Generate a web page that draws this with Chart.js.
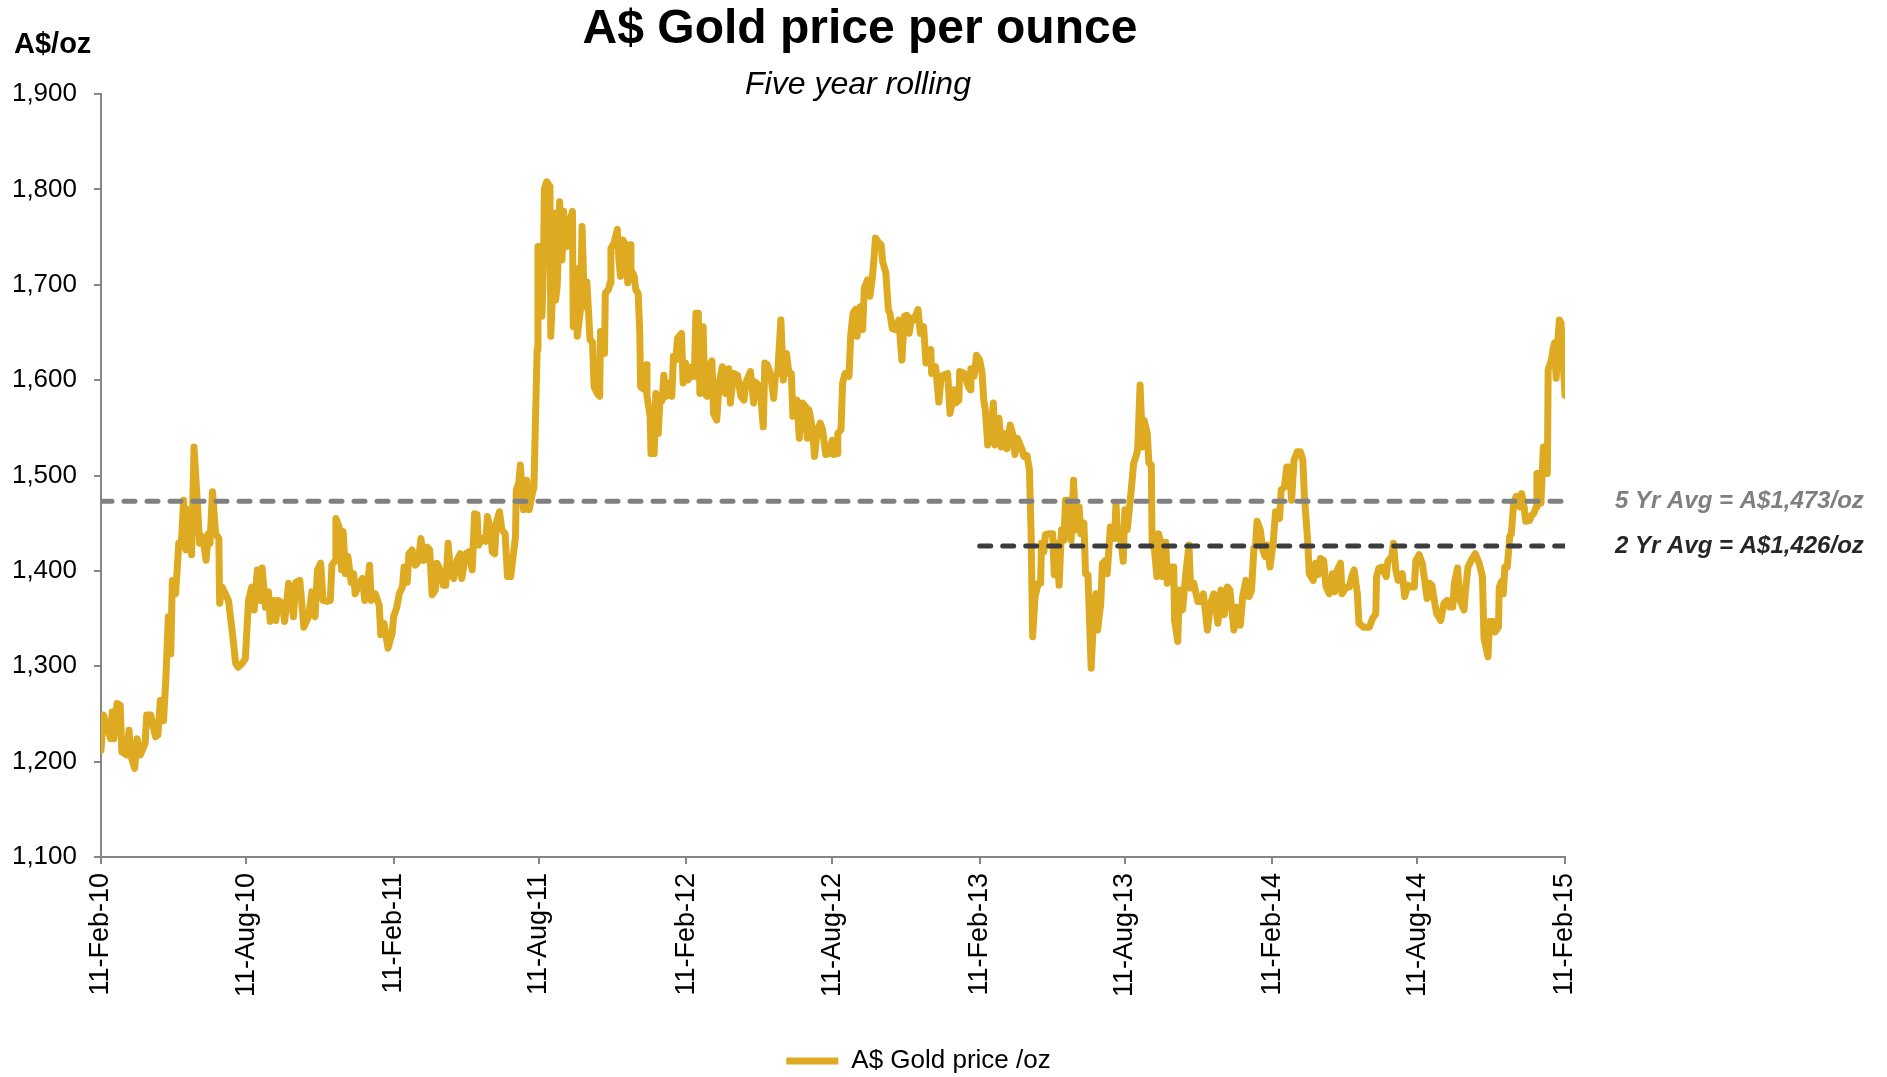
<!DOCTYPE html>
<html>
<head>
<meta charset="utf-8">
<title>A$ Gold price per ounce</title>
<script src="https://cdn.jsdelivr.net/npm/chart.js@4.4.1/dist/chart.umd.min.js"></script>
<style>
  html, body { margin: 0; padding: 0; background: #fff; }
</style>
</head>
<body>
<canvas id="myChart" width="1887" height="1077"></canvas>
<script>
var titleText = 'A$ Gold price per ounce';
var subtitleText = 'Five year rolling';
var unitText = 'A$/oz';
var seriesLabel = 'A$ Gold price /oz';

// x tick positions, in days after 11-Feb-10
var tickDays = [0, 181, 365, 546, 730, 912, 1096, 1277, 1461, 1642, 1826];
var tickLabels = ['11-Feb-10', '11-Aug-10', '11-Feb-11', '11-Aug-11', '11-Feb-12', '11-Aug-12',
                  '11-Feb-13', '11-Aug-13', '11-Feb-14', '11-Aug-14', '11-Feb-15'];

// averages: value, first day, label
var avgValues = [1473, 1426];
var avgStartDays = [0, 1096];
var avgLabels = ['5 Yr Avg = A$1,473/oz', '2 Yr Avg = A$1,426/oz'];
var avgColors = ['#808080', '#3c3c3c'];
var avgTextColors = ['#7f7f7f', '#262626'];

// gold price, [days after 11-Feb-10, A$/oz]
var goldPoints = [
  [0,1212],[3,1249],[12,1224],[14,1252],[16,1224],[20,1261],[24,1259],[26,1210],[32,1207],[35,1233],
  [37,1207],[42,1193],[45,1224],[49,1207],[55,1219],[57,1249],[62,1249],[68,1226],[71,1228],[74,1264],
  [78,1243],[81,1289],[84,1352],[87,1313],[89,1390],[93,1376],[95,1401],[97,1429],[100,1425],[103,1474],
  [106,1422],[109,1464],[113,1417],[116,1530],[120,1474],[123,1429],[127,1436],[131,1411],[134,1439],[136,1429],
  [139,1483],[143,1439],[147,1434],[148,1366],[151,1383],[155,1376],[159,1369],[164,1334],[168,1303],[171,1299],
  [176,1303],[180,1308],[182,1338],[184,1369],[188,1383],[191,1359],[195,1401],[199,1369],[201,1403],[205,1362],
  [209,1378],[211,1347],[216,1369],[218,1348],[221,1369],[226,1366],[229,1347],[234,1387],[240,1352],[243,1388],
  [248,1390],[253,1341],[259,1352],[263,1378],[267,1352],[270,1401],[274,1408],[277,1369],[282,1368],[286,1369],
  [288,1406],[292,1411],[293,1455],[297,1446],[300,1401],[302,1441],[305,1397],[308,1415],[312,1388],[315,1397],
  [317,1376],[322,1387],[326,1392],[329,1369],[332,1383],[335,1406],[337,1369],[342,1376],[347,1364],[349,1333],
  [353,1345],[358,1319],[363,1334],[365,1352],[369,1362],[372,1376],[376,1383],[378,1404],[382,1388],[384,1418],
  [388,1422],[392,1406],[396,1410],[399,1434],[403,1411],[407,1425],[410,1422],[413,1375],[417,1380],[419,1408],
  [423,1401],[427,1385],[430,1385],[433,1429],[436,1397],[440,1392],[444,1411],[448,1418],[450,1392],[455,1418],
  [459,1420],[463,1401],[466,1460],[469,1459],[471,1427],[475,1434],[480,1431],[482,1457],[486,1443],[488,1420],
  [491,1418],[493,1450],[497,1462],[500,1443],[504,1439],[507,1394],[511,1394],[514,1415],[517,1436],[518,1485],
  [521,1492],[523,1511],[527,1464],[531,1495],[534,1464],[538,1481],[540,1488],[542,1562],[544,1632],[545,1740],
  [548,1740],[550,1667],[552,1726],[553,1801],[556,1808],[560,1803],[561,1646],[564,1709],[566,1775],[567,1684],
  [569,1698],[572,1787],[575,1726],[577,1777],[579,1754],[581,1740],[585,1766],[588,1777],[589,1656],[592,1717],
  [594,1646],[598,1674],[600,1761],[603,1677],[606,1703],[610,1642],[613,1640],[615,1593],[619,1586],[622,1583],
  [623,1651],[625,1651],[628,1628],[629,1691],[633,1695],[635,1702],[636,1738],[640,1744],[644,1758],[646,1726],
  [648,1709],[651,1747],[655,1740],[657,1702],[660,1742],[661,1716],[665,1709],[667,1695],[670,1691],[672,1649],
  [673,1593],[678,1590],[680,1616],[681,1583],[685,1562],[686,1523],[690,1523],[692,1586],[695,1544],[697,1576],
  [700,1579],[702,1605],[705,1583],[708,1597],[712,1583],[714,1625],[717,1621],[719,1644],[724,1649],[726,1597],
  [729,1618],[732,1600],[735,1604],[737,1614],[740,1604],[742,1670],[745,1670],[747,1586],[751,1656],[753,1586],
  [756,1583],[760,1618],[762,1620],[764,1565],[768,1558],[771,1597],[775,1614],[779,1586],[783,1612],[785,1576],
  [789,1607],[794,1605],[798,1583],[802,1579],[804,1597],[810,1609],[814,1576],[816,1598],[822,1593],[826,1551],
  [828,1618],[831,1616],[835,1607],[839,1581],[841,1604],[844,1607],[848,1663],[851,1600],[855,1628],[858,1607],
  [861,1607],[863,1562],[868,1579],[871,1539],[875,1576],[879,1572],[881,1539],[883,1569],[887,1551],[890,1520],
  [893,1544],[897,1555],[900,1548],[904,1522],[908,1523],[912,1537],[914,1522],[918,1523],[919,1544],[923,1548],
  [925,1597],[928,1607],[933,1604],[935,1646],[938,1670],[941,1674],[943,1646],[947,1677],[950,1653],[952,1696],
  [956,1705],[959,1688],[962,1707],[964,1726],[966,1749],[970,1744],[973,1742],[975,1724],[979,1712],[982,1674],
  [984,1670],[987,1654],[991,1653],[995,1663],[999,1621],[1002,1667],[1005,1668],[1008,1649],[1011,1665],[1014,1663],
  [1019,1674],[1022,1649],[1026,1656],[1029,1618],[1035,1632],[1036,1607],[1041,1614],[1045,1577],[1048,1604],[1056,1607],
  [1059,1565],[1064,1590],[1066,1576],[1070,1579],[1071,1609],[1077,1607],[1081,1595],[1084,1590],[1085,1612],[1089,1604],
  [1092,1626],[1096,1621],[1099,1607],[1101,1579],[1103,1569],[1106,1532],[1110,1544],[1113,1576],[1115,1532],[1118,1544],
  [1120,1560],[1123,1530],[1127,1544],[1130,1528],[1134,1553],[1137,1544],[1140,1522],[1143,1539],[1149,1527],[1151,1520],
  [1155,1521],[1158,1506],[1160,1443],[1162,1331],[1165,1373],[1169,1387],[1172,1387],[1173,1429],[1176,1420],[1178,1438],
  [1183,1439],[1187,1439],[1189,1396],[1192,1429],[1195,1385],[1198,1443],[1201,1432],[1203,1474],[1207,1474],[1210,1432],
  [1213,1495],[1216,1443],[1220,1467],[1222,1439],[1226,1450],[1228,1397],[1231,1396],[1235,1298],[1238,1352],[1241,1376],
  [1243,1338],[1247,1366],[1249,1408],[1253,1411],[1255,1397],[1259,1446],[1264,1434],[1266,1471],[1268,1434],[1271,1443],
  [1275,1410],[1277,1464],[1280,1443],[1282,1460],[1285,1485],[1288,1513],[1291,1520],[1293,1527],[1296,1595],[1299,1530],
  [1301,1558],[1305,1544],[1307,1513],[1310,1511],[1311,1429],[1314,1422],[1317,1394],[1319,1439],[1322,1429],[1324,1394],
  [1328,1430],[1330,1387],[1334,1404],[1338,1404],[1339,1348],[1343,1326],[1345,1380],[1349,1359],[1353,1397],[1357,1427],
  [1359,1382],[1363,1387],[1368,1368],[1372,1368],[1375,1376],[1380,1338],[1384,1366],[1388,1376],[1393,1345],[1397,1380],
  [1401,1354],[1405,1383],[1408,1380],[1413,1338],[1417,1362],[1421,1343],[1424,1373],[1428,1390],[1432,1373],[1435,1380],
  [1438,1424],[1440,1425],[1442,1452],[1446,1443],[1449,1422],[1452,1415],[1455,1427],[1458,1404],[1462,1429],[1465,1462],
  [1470,1455],[1472,1485],[1476,1488],[1479,1509],[1482,1509],[1485,1474],[1488,1516],[1492,1525],[1496,1525],[1499,1516],
  [1501,1478],[1505,1432],[1507,1397],[1512,1390],[1515,1408],[1518,1396],[1521,1413],[1525,1411],[1528,1383],[1532,1376],
  [1536,1397],[1539,1378],[1542,1401],[1546,1408],[1548,1376],[1553,1383],[1557,1383],[1560,1394],[1563,1401],[1567,1376],
  [1569,1345],[1575,1341],[1582,1341],[1586,1350],[1590,1355],[1591,1394],[1594,1403],[1598,1404],[1603,1394],[1605,1410],
  [1610,1415],[1612,1429],[1615,1401],[1618,1390],[1623,1397],[1626,1373],[1630,1385],[1634,1383],[1638,1383],[1640,1411],
  [1644,1417],[1648,1408],[1651,1390],[1654,1371],[1657,1387],[1660,1385],[1663,1369],[1666,1355],[1671,1348],[1675,1366],
  [1679,1369],[1682,1362],[1686,1362],[1688,1387],[1692,1403],[1695,1369],[1700,1359],[1702,1380],[1705,1404],[1709,1411],
  [1714,1418],[1719,1408],[1723,1394],[1725,1329],[1730,1310],[1732,1347],[1736,1347],[1739,1336],[1743,1341],[1744,1383],
  [1747,1389],[1749,1376],[1751,1404],[1754,1404],[1757,1436],[1759,1439],[1762,1471],[1765,1478],[1768,1478],[1770,1467],
  [1772,1481],[1775,1467],[1777,1452],[1782,1453],[1784,1458],[1787,1460],[1790,1467],[1791,1502],[1794,1502],[1796,1471],
  [1799,1530],[1802,1530],[1804,1502],[1805,1611],[1809,1621],[1811,1632],[1813,1639],[1815,1602],[1817,1640],[1819,1663],
  [1821,1660],[1823,1630],[1826,1584]
];

var FONT = '"Liberation Sans", Arial, sans-serif';
Chart.defaults.font.family = FONT;
Chart.defaults.color = '#000';

function avgLine(i) {
    return [{x: avgStartDays[i], y: avgValues[i]}, {x: 1826, y: avgValues[i]}];
}

// titles, unit label and the average labels are drawn straight on the canvas
var chartText = {
    id: 'chartText',
    afterLayout: function(chart) {
        // move the legend under the middle of the plot, as in the original
        var lg = chart.legend;
        if (lg) {
            lg.left += 136; lg.right += 136;
            lg.top += 7; lg.bottom += 7;
        }
    },
    afterDraw: function(chart) {
        var ctx = chart.ctx;
        var yScale = chart.scales.y;
        ctx.save();
        ctx.fillStyle = '#000';
        ctx.textAlign = 'center';
        ctx.textBaseline = 'alphabetic';
        ctx.font = 'bold 48px ' + FONT;
        ctx.fillText(titleText, 860, 43);
        ctx.font = 'italic 32px ' + FONT;
        ctx.fillText(subtitleText, 858, 94);
        ctx.textAlign = 'left';
        ctx.font = 'bold 29px ' + FONT;
        ctx.fillText(unitText, 14, 53);
        ctx.font = 'italic bold 24px ' + FONT;
        ctx.textBaseline = 'middle';
        avgLabels.forEach(function(t, i) {
            ctx.fillStyle = avgTextColors[i];
            ctx.fillText(t, 1615, yScale.getPixelForValue(avgValues[i]));
        });
        ctx.restore();
    }
};

function createChart() {
    const ctx = document.getElementById('myChart');
    new Chart(ctx, {
        type: 'line',
        data: {
            datasets: [{
                label: '5 Yr Avg',
                data: avgLine(0),
                borderColor: avgColors[0],
                borderWidth: 5,
                borderDash: [11, 12],
                borderCapStyle: 'round',
                pointRadius: 0,
                order: 0
            }, {
                label: '2 Yr Avg',
                data: avgLine(1),
                borderColor: avgColors[1],
                borderWidth: 5,
                borderDash: [11, 12],
                borderCapStyle: 'round',
                pointRadius: 0,
                order: 1
            }, {
                label: seriesLabel,
                data: goldPoints.map(function(p) { return {x: p[0], y: p[1]}; }),
                borderColor: '#DDAA22',
                backgroundColor: '#DDAA22',
                borderWidth: 7,
                borderJoinStyle: 'round',
                borderCapStyle: 'round',
                pointRadius: 0,
                tension: 0,
                order: 2
            }]
        },
        options: {
            responsive: false,
            animation: false,
            devicePixelRatio: 1,
            layout: { padding: { top: 94, right: 322, bottom: 0, left: 0 } },
            plugins: {
                tooltip: { enabled: false },
                legend: {
                    position: 'bottom',
                    labels: {
                        usePointStyle: true,
                        pointStyle: 'line',
                        pointStyleWidth: 52,
                        padding: 10,
                        font: { size: 26 },
                        color: '#000',
                        filter: function(item) { return item.datasetIndex === 2; }
                    }
                }
            },
            scales: {
                x: {
                    type: 'linear',
                    min: 0,
                    max: 1826,
                    afterBuildTicks: function(scale) {
                        scale.ticks = tickDays.map(function(d) { return {value: d}; });
                    },
                    afterFit: function(scale) { scale.height = 174; },
                    ticks: {
                        autoSkip: false,
                        maxRotation: 90,
                        minRotation: 90,
                        padding: 9,
                        font: { size: 27 },
                        color: '#000',
                        callback: function(v, i) { return tickLabels[i]; }
                    },
                    grid: { drawOnChartArea: false, tickLength: 7, color: '#868686', lineWidth: 2 },
                    border: { color: '#868686', width: 2 }
                },
                y: {
                    min: 1100,
                    max: 1900,
                    afterFit: function(scale) { scale.width = 101; },
                    ticks: {
                        stepSize: 100,
                        padding: 17,
                        font: { size: 26 },
                        color: '#000',
                        callback: function(v) { return v.toLocaleString('en-US'); }
                    },
                    grid: { drawOnChartArea: false, tickLength: 7, color: '#868686', lineWidth: 2 },
                    border: { color: '#868686', width: 2 }
                }
            }
        },
        plugins: [chartText]
    });
}
createChart();
</script>
</body>
</html>
